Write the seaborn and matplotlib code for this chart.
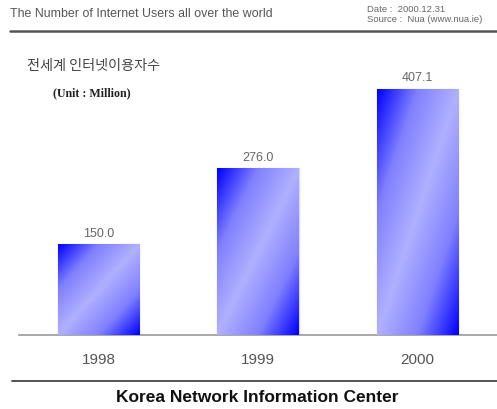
import numpy as np
import pandas as pd
import matplotlib
matplotlib.use("Agg")
import matplotlib.pyplot as plt
from matplotlib.lines import Line2D
from matplotlib.colors import LinearSegmentedColormap
import seaborn as sns

years = ["1998", "1999", "2000"]
users = [150.0, 276.0, 407.1]

header_title = "The Number of Internet Users all over the world"
date_text = "Date :  2000.12.31"
source_text = "Source :  Nua (www.nua.ie)"
chart_title = "전세계 인터넷이용자수"
unit_text = "(Unit : Million)"
footer_text = "Korea Network Information Center"

sns.set_style("white")
plt.rcParams["font.family"] = ["Liberation Sans", "Noto Sans CJK KR", "DejaVu Sans"]

W, H = 497, 410
fig = plt.figure(figsize=(W / 100, H / 100), dpi=100)


def fx(px):
    return px / W


def fy(py):
    return 1 - py / H


ax = fig.add_axes([fx(19), 74 / H, 478 / W, 278 / H])
df = pd.DataFrame({"year": years, "users": users})
sns.barplot(data=df, x="year", y="users", order=years, width=0.51,
            color="#6060ff", edgecolor="none", ax=ax)

# diagonal blue -> lavender -> blue fill inside each bar
grad_cmap = LinearSegmentedColormap.from_list(
    "bar_fill", ["#0000ff", "#8080ff", "#b0b0ff", "#8080ff", "#0000ff"])
n = 200
u = np.linspace(0, 1, n)
uu, vv = np.meshgrid(u, u)
grad = (uu + vv) / 2.0  # 0 at top-left, 1 at bottom-right
for bar in ax.patches:
    x0, y0 = bar.get_x(), bar.get_y()
    w, h = bar.get_width(), bar.get_height()
    im = ax.imshow(grad, cmap=grad_cmap, vmin=0, vmax=1, aspect="auto",
                   extent=(x0, x0 + w, y0, y0 + h), origin="upper",
                   interpolation="bilinear", zorder=3)
    im.set_clip_path(bar)
    bar.set_edgecolor("#d8d8ff")
    bar.set_linewidth(1.0)
    bar.set_zorder(2)

ax.bar_label(ax.containers[0], fmt="%.1f", padding=4, color="#666666",
             fontsize=9)

ax.set_xlim(-0.5, 2.5)
ax.set_ylim(0, 460)
ax.set_xlabel("")
ax.set_ylabel("")
ax.set_yticks([])
ax.set_xticks(range(len(years)))
ax.set_xticklabels(years, color="#555555", fontsize=11)
ax.tick_params(axis="x", which="major", length=0, pad=12)
ax.set_xticks([-0.5, 0.5, 1.5], minor=True)
ax.tick_params(axis="x", which="minor", direction="in", length=4,
               width=1, color="#888888")
for side in ["left", "right", "top"]:
    ax.spines[side].set_visible(False)
ax.spines["bottom"].set_color("#999999")
ax.spines["bottom"].set_linewidth(1.2)
ax.patch.set_alpha(0)

# header
fig.text(fx(10), fy(14), header_title, fontsize=8.9, color="#555555",
         va="center", ha="left")
fig.text(fx(367), fy(9), date_text, fontsize=6.8, color="#666666",
         va="center", ha="left")
fig.text(fx(367), fy(19), source_text, fontsize=6.8, color="#666666",
         va="center", ha="left")
fig.add_artist(Line2D([fx(10), 1.0], [fy(32), fy(32)], color="#555555",
                      linewidth=1.8, transform=fig.transFigure))

# chart title and unit
fig.text(fx(27), fy(66), chart_title, fontsize=10.2, color="#444444",
         va="center", ha="left", family=["Noto Sans CJK KR", "DejaVu Sans"])
fig.text(fx(53), fy(93), unit_text, fontsize=8.6, color="#222222",
         va="center", ha="left", fontweight="bold",
         family=["Liberation Serif", "DejaVu Serif"])

# footer
fig.add_artist(Line2D([fx(12), 1.0], [fy(382), fy(382)], color="#444444",
                      linewidth=1.3, transform=fig.transFigure))
fig.text(fx(257), fy(398), footer_text, fontsize=12.5, color="#111111",
         va="center", ha="center", fontweight="bold")

fig.savefig("out.png", dpi=100, facecolor="white")
